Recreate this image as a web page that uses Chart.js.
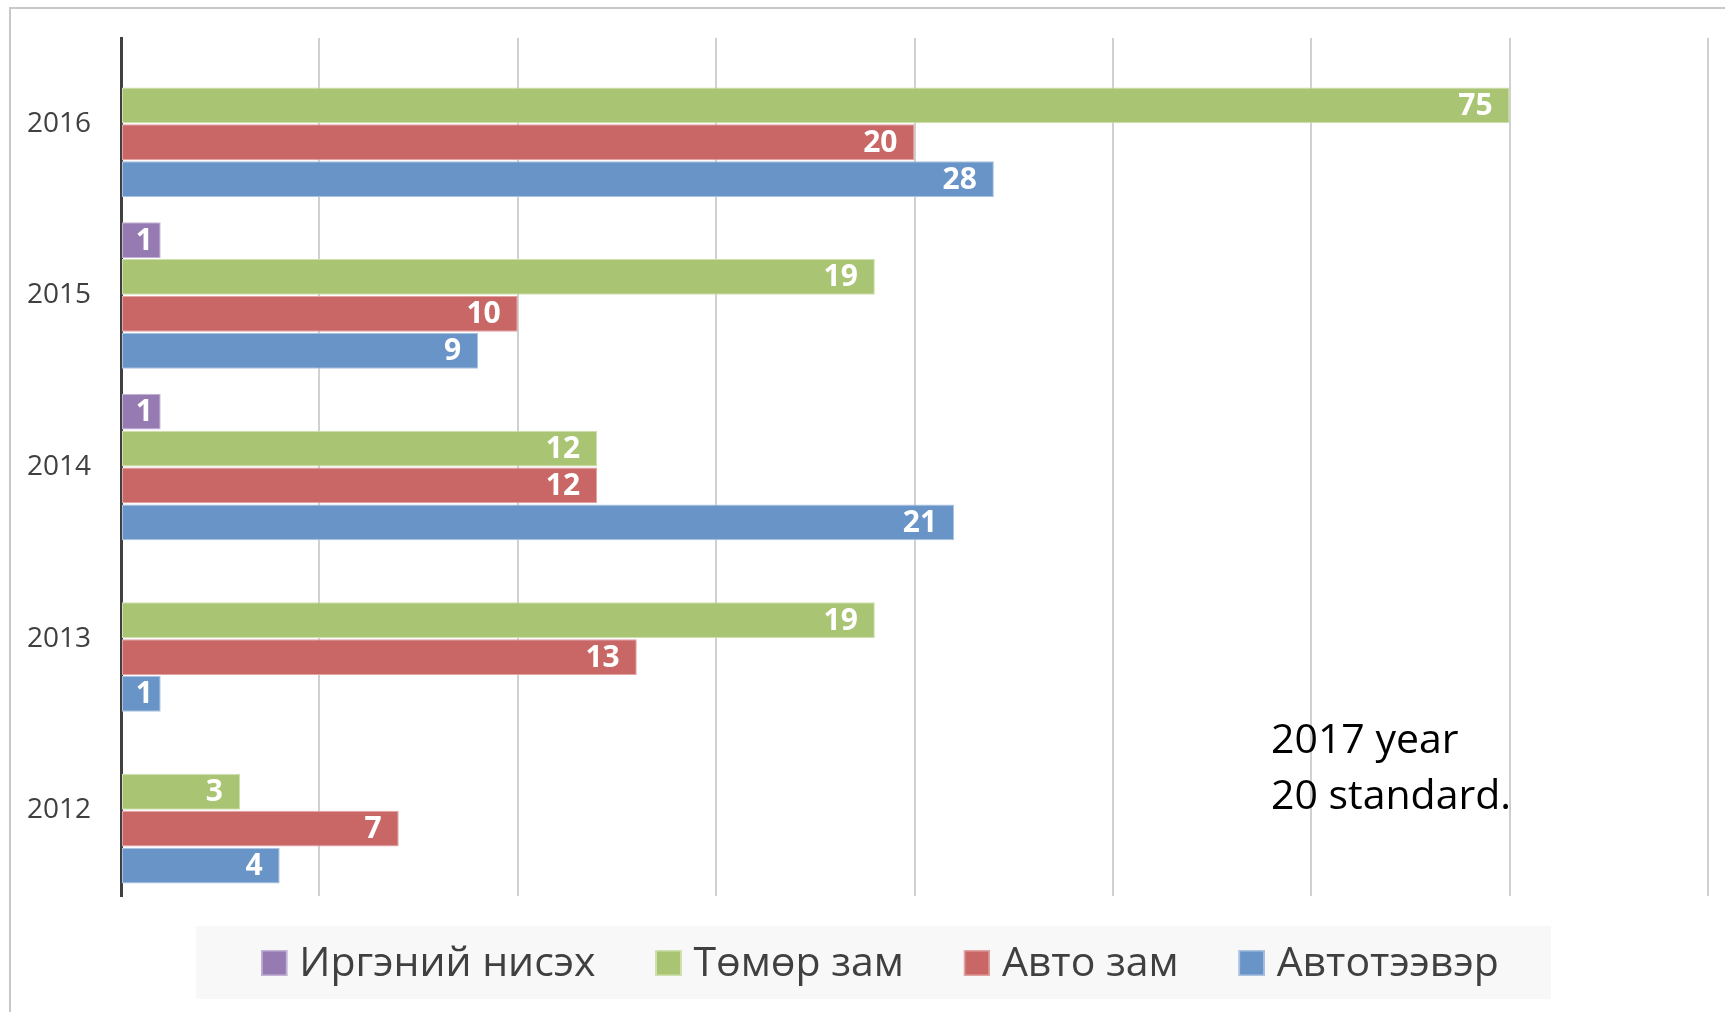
<!DOCTYPE html>
<html>
<head>
<meta charset="utf-8">
<script src="https://cdn.jsdelivr.net/npm/chart.js@4/dist/chart.umd.min.js"></script>
<style>
  html, body { margin: 0; padding: 0; background: #fff; overflow: hidden; }
  #wrap { position: relative; width: 1725px; height: 1012px; }
  #frame { position: absolute; left: 9px; top: 7px; width: 3000px; height: 3000px; border: 2px solid #c8c8c8; box-sizing: border-box; }
  canvas { position: absolute; left: 0; top: 0; }
</style>
</head>
<body>
<div id="wrap">
  <div id="frame"></div>
  <canvas id="c" width="1725" height="1012"></canvas>
</div>
<script>
// ---- data (top category first) ----
const years = ['2016', '2015', '2014', '2013', '2012'];
const seriesNames = ['Иргэний нисэх', 'Төмөр зам', 'Авто зам', 'Автотээвэр'];
// bar lengths as drawn on the axis
const irgeniiNiseh = [null, 1, 1, null, null];
const tomorZam = [35, 19, 12, 19, 3];
const avtoZam = [20, 10, 12, 13, 7];
const avtoteever = [22, 9, 21, 1, 4];
// printed data labels
const irgeniiNisehLabels = [null, '1', '1', null, null];
const tomorZamLabels = ['75', '19', '12', '19', '3'];
const avtoZamLabels = ['20', '10', '12', '13', '7'];
const avtoteeverLabels = ['28', '9', '21', '1', '4'];
const axisMax = 40;
const axisStep = 5;
const noteLines = ['2017 year', '20 standard.'];

const FONT = "'Open Sans', 'DejaVu Sans', sans-serif";
const colors = ['#957bb1', '#a9c473', '#c86766', '#6894c7'];
const borders = ['#c3b3d6', '#cfe0ae', '#e2a4a3', '#aac3e2'];
const allData = [irgeniiNiseh, tomorZam, avtoZam, avtoteever];
const allLabels = [irgeniiNisehLabels, tomorZamLabels, avtoZamLabels, avtoteeverLabels];

const datasets = seriesNames.map((name, i) => ({
  label: name,
  data: allData[i],
  valueLabels: allLabels[i],
  backgroundColor: colors[i],
  borderColor: borders[i],
  borderWidth: 1,
  borderSkipped: false,
  categoryPercentage: 0.86,
  barPercentage: 0.97
}));

const labelPlugin = {
  id: 'valueLabels',
  afterDatasetsDraw(chart) {
    const ctx = chart.ctx;
    ctx.save();
    ctx.font = "bold 30px " + FONT;
    ctx.fillStyle = '#ffffff';
    ctx.textBaseline = 'middle';
    chart.data.datasets.forEach((ds, di) => {
      const meta = chart.getDatasetMeta(di);
      meta.data.forEach((bar, i) => {
        const txt = ds.valueLabels[i];
        if (ds.data[i] == null || txt == null) return;
        const w = ctx.measureText(txt).width;
        const len = bar.x - bar.base;
        let x;
        if (len < w + 34) {
          ctx.textAlign = 'center';
          x = (bar.x + bar.base) / 2 + 3;
        } else {
          ctx.textAlign = 'right';
          x = bar.x - 17;
        }
        ctx.fillText(txt, x, bar.y + 1);
      });
    });
    ctx.restore();
  }
};

const legendAndNotePlugin = {
  id: 'legendAndNote',
  afterDraw(chart) {
    const ctx = chart.ctx;
    ctx.save();
    // legend
    const fontPx = 41;
    ctx.font = fontPx + 'px ' + FONT;
    const box = 26, gapBoxText = 12, gapItems = 60;
    const items = chart.data.datasets.map((ds, i) => ({
      text: ds.label, color: ds.backgroundColor, border: ds.borderColor,
      w: ctx.measureText(ds.label).width
    }));
    let total = 0;
    items.forEach((it, i) => { total += box + gapBoxText + it.w + (i < items.length - 1 ? gapItems : 0); });
    const centerX = 880;
    let x = centerX - total / 2;
    const cy = 963;
    ctx.fillStyle = '#f8f8f8';
    ctx.fillRect(196, 926, 1551 - 196, 73);
    ctx.textBaseline = 'middle';
    ctx.textAlign = 'left';
    items.forEach(it => {
      ctx.fillStyle = it.color;
      ctx.fillRect(x, cy - box / 2, box, box);
      ctx.strokeStyle = it.border;
      ctx.lineWidth = 1.5;
      ctx.strokeRect(x + 0.75, cy - box / 2 + 0.75, box - 1.5, box - 1.5);
      ctx.fillStyle = '#404040';
      ctx.fillText(it.text, x + box + gapBoxText, cy + 1);
      x += box + gapBoxText + it.w + gapItems;
    });
    // note text
    ctx.font = '41px ' + FONT;
    ctx.fillStyle = '#000000';
    ctx.textBaseline = 'alphabetic';
    ctx.fillText(noteLines[0], 1271, 753);
    ctx.fillText(noteLines[1], 1271, 809);
    ctx.restore();
  }
};

new Chart(document.getElementById('c'), {
  type: 'bar',
  data: { labels: years, datasets },
  options: {
    indexAxis: 'y',
    responsive: false,
    animation: false,
    layout: { padding: { top: 38, right: 17, left: 0, bottom: 0 } },
    plugins: { legend: { display: false }, tooltip: { enabled: false } },
    scales: {
      x: {
        min: 0, max: axisMax,
        ticks: { display: false, stepSize: axisStep },
        grid: {
          drawTicks: false,
          color: (c) => (c.tick && c.tick.value === 0) ? 'rgba(0,0,0,0)' : '#d0d0d0',
          lineWidth: 2
        },
        border: { display: false },
        afterFit(scale) { scale.height = 116; scale.paddingLeft = 0; scale.paddingRight = 0; }
      },
      y: {
        grid: { display: false, drawTicks: false },
        border: { display: true, color: '#404040', width: 3 },
        ticks: { color: '#404040', font: { family: FONT, size: 28 }, padding: 30 },
        afterFit(scale) { scale.width = 121; scale.paddingTop = 0; scale.paddingBottom = 0; }
      }
    }
  },
  plugins: [labelPlugin, legendAndNotePlugin]
});
</script>
</body>
</html>
